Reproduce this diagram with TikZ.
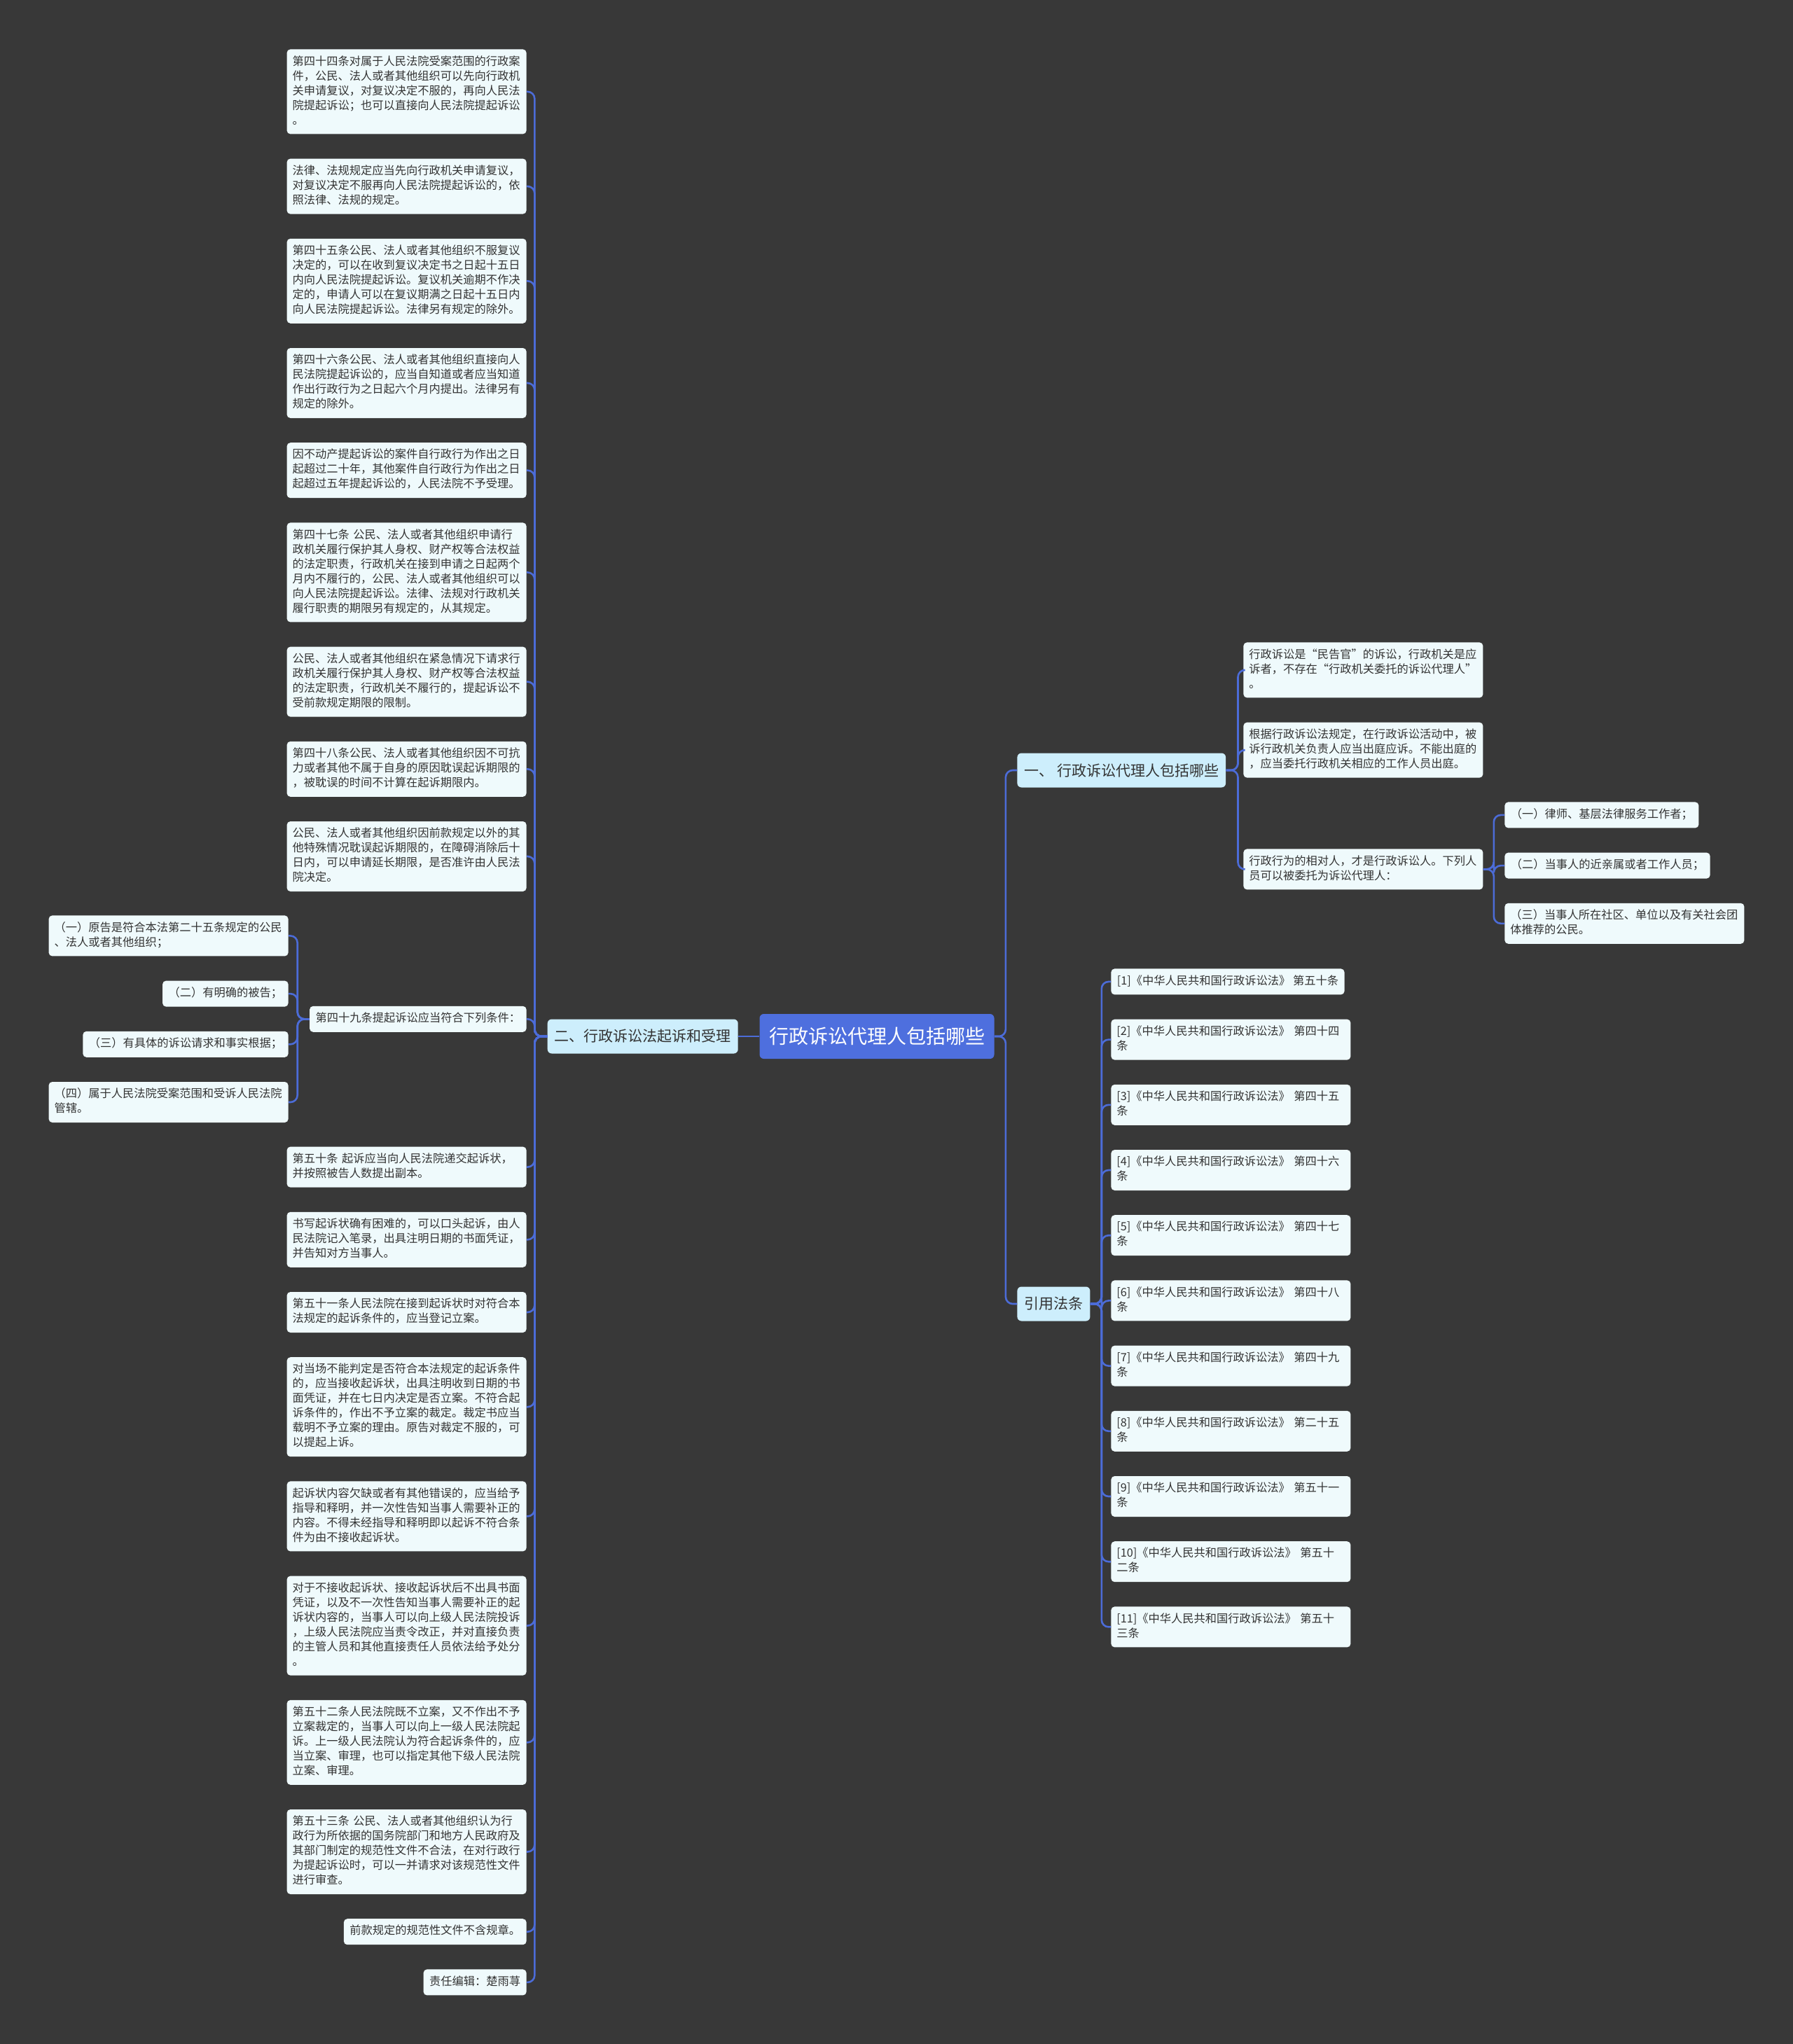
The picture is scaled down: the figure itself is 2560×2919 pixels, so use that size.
\documentclass[tikz,border=0pt]{standalone}
\usepackage{fontspec}
\setmainfont{Noto Sans CJK SC}
\usetikzlibrary{positioning}
\definecolor{bgc}{HTML}{383838}
\definecolor{linkc}{HTML}{4C6CD8}
\definecolor{rootc}{HTML}{4E6FDE}
\definecolor{topicc}{HTML}{CDEEFC}
\definecolor{leafc}{HTML}{EFFAFC}
\definecolor{textc}{HTML}{333333}

\begin{document}
\begin{tikzpicture}[
    x=0.5pt, y=-0.5pt,
    root/.style={fill=rootc, text=white, rounded corners=3pt, inner xsep=6.75pt, minimum height=32pt, font=\fontsize{14}{16}\selectfont},
    topic/.style={fill=topicc, text=textc, rounded corners=3pt, inner xsep=5pt, minimum height=24.5pt, font=\fontsize{10.5}{12}\selectfont},
    tag/.style={fill=leafc, text=textc, rounded corners=2.5pt, inner xsep=4.25pt, inner ysep=4pt, align=left,
      font=\fontsize{8.125}{10.5}\selectfont, execute at begin node=\strut, execute at end node=\strut},
    leaf/.style={tag, text width=163pt, inner xsep=4pt},
    stackl/.style={below left=17.2pt and 0pt of #1.south east},
    stackr/.style={below right=17.2pt and 0pt of #1.south west},
    link/.style={draw=linkc, line width=1.3pt, rounded corners=5pt},
]
  \fill[bgc] (0,0) rectangle (2560,2919);

  % centre
  \node[root] (root) at (1252,1480) {行政诉讼代理人包括哪些};
  \node[topic, left=15pt of root] (topic2) {二、行政诉讼法起诉和受理};
  \node[topic, anchor=west] (topic1) at (1452,1100) {一、 行政诉讼代理人包括哪些};
  \node[topic, anchor=west] (cite) at (1452,1862) {引用法条};

  % left column
  \node[leaf, anchor=north east] (l1) at (752,70) {第四十四条对属于人民法院受案范围的行政案\\件，公民、法人或者其他组织可以先向行政机\\关申请复议，对复议决定不服的，再向人民法\\院提起诉讼；也可以直接向人民法院提起诉讼\\。};
  \node[leaf, stackl=l1] (l2) {法律、法规规定应当先向行政机关申请复议，\\对复议决定不服再向人民法院提起诉讼的，依\\照法律、法规的规定。};
  \node[leaf, stackl=l2] (l3) {第四十五条公民、法人或者其他组织不服复议\\决定的，可以在收到复议决定书之日起十五日\\内向人民法院提起诉讼。复议机关逾期不作决\\定的，申请人可以在复议期满之日起十五日内\\向人民法院提起诉讼。法律另有规定的除外。};
  \node[leaf, stackl=l3] (l4) {第四十六条公民、法人或者其他组织直接向人\\民法院提起诉讼的，应当自知道或者应当知道\\作出行政行为之日起六个月内提出。法律另有\\规定的除外。};
  \node[leaf, stackl=l4] (l5) {因不动产提起诉讼的案件自行政行为作出之日\\起超过二十年，其他案件自行政行为作出之日\\起超过五年提起诉讼的，人民法院不予受理。};
  \node[leaf, stackl=l5] (l6) {第四十七条 公民、法人或者其他组织申请行\\政机关履行保护其人身权、财产权等合法权益\\的法定职责，行政机关在接到申请之日起两个\\月内不履行的，公民、法人或者其他组织可以\\向人民法院提起诉讼。法律、法规对行政机关\\履行职责的期限另有规定的，从其规定。};
  \node[leaf, stackl=l6] (l7) {公民、法人或者其他组织在紧急情况下请求行\\政机关履行保护其人身权、财产权等合法权益\\的法定职责，行政机关不履行的，提起诉讼不\\受前款规定期限的限制。};
  \node[leaf, stackl=l7] (l8) {第四十八条公民、法人或者其他组织因不可抗\\力或者其他不属于自身的原因耽误起诉期限的\\，被耽误的时间不计算在起诉期限内。};
  \node[leaf, stackl=l8] (l9) {公民、法人或者其他组织因前款规定以外的其\\他特殊情况耽误起诉期限的，在障碍消除后十\\日内，可以申请延长期限，是否准许由人民法\\院决定。};
  \node[tag, below left=81.5pt and 0pt of l9.south east] (l10) {第四十九条提起诉讼应当符合下列条件：};
  \node[leaf, below left=81.5pt and 0pt of l10.south east] (l11) {第五十条 起诉应当向人民法院递交起诉状，\\并按照被告人数提出副本。};
  \node[leaf, stackl=l11] (l12) {书写起诉状确有困难的，可以口头起诉，由人\\民法院记入笔录，出具注明日期的书面凭证，\\并告知对方当事人。};
  \node[leaf, stackl=l12] (l13) {第五十一条人民法院在接到起诉状时对符合本\\法规定的起诉条件的，应当登记立案。};
  \node[leaf, stackl=l13] (l14) {对当场不能判定是否符合本法规定的起诉条件\\的，应当接收起诉状，出具注明收到日期的书\\面凭证，并在七日内决定是否立案。不符合起\\诉条件的，作出不予立案的裁定。裁定书应当\\载明不予立案的理由。原告对裁定不服的，可\\以提起上诉。};
  \node[leaf, stackl=l14] (l15) {起诉状内容欠缺或者有其他错误的，应当给予\\指导和释明，并一次性告知当事人需要补正的\\内容。不得未经指导和释明即以起诉不符合条\\件为由不接收起诉状。};
  \node[leaf, stackl=l15] (l16) {对于不接收起诉状、接收起诉状后不出具书面\\凭证，以及不一次性告知当事人需要补正的起\\诉状内容的，当事人可以向上级人民法院投诉\\，上级人民法院应当责令改正，并对直接负责\\的主管人员和其他直接责任人员依法给予处分\\。};
  \node[leaf, stackl=l16] (l17) {第五十二条人民法院既不立案，又不作出不予\\立案裁定的，当事人可以向上一级人民法院起\\诉。上一级人民法院认为符合起诉条件的，应\\当立案、审理，也可以指定其他下级人民法院\\立案、审理。};
  \node[leaf, stackl=l17] (l18) {第五十三条 公民、法人或者其他组织认为行\\政行为所依据的国务院部门和地方人民政府及\\其部门制定的规范性文件不合法，在对行政行\\为提起诉讼时，可以一并请求对该规范性文件\\进行审查。};
  \node[tag, stackl=l18] (l19) {前款规定的规范性文件不含规章。};
  \node[tag, stackl=l19] (l20) {责任编辑：楚雨荨};

  % conditions of art. 49
  \node[leaf, anchor=north east] (s1) at (412,1307) {（一）原告是符合本法第二十五条规定的公民\\、法人或者其他组织；};
  \node[tag, stackl=s1] (s2) {（二）有明确的被告；};
  \node[tag, stackl=s2] (s3) {（三）有具体的诉讼请求和事实根据；};
  \node[leaf, stackl=s3] (s4) {（四）属于人民法院受案范围和受诉人民法院\\管辖。};

  % right: agents
  \node[leaf, anchor=north west] (r1) at (1775,917) {行政诉讼是“民告官”的诉讼，行政机关是应\\诉者，不存在“行政机关委托的诉讼代理人”\\。};
  \node[leaf, stackr=r1] (r2) {根据行政诉讼法规定，在行政诉讼活动中，被\\诉行政机关负责人应当出庭应诉。不能出庭的\\，应当委托行政机关相应的工作人员出庭。};
  \node[leaf, anchor=north west] (r3) at (1775,1212) {行政行为的相对人，才是行政诉讼人。下列人\\员可以被委托为诉讼代理人：};
  \node[tag, anchor=north west] (q1) at (2148,1145) {（一）律师、基层法律服务工作者；};
  \node[tag, stackr=q1] (q2) {（二）当事人的近亲属或者工作人员；};
  \node[leaf, stackr=q2] (q3) {（三）当事人所在社区、单位以及有关社会团\\体推荐的公民。};

  % right: cited articles
  \node[tag, anchor=north west] (law1) at (1586,1383) {[1]《中华人民共和国行政诉讼法》 第五十条};
  \node[leaf, stackr=law1] (law2) {[2]《中华人民共和国行政诉讼法》 第四十四\\条};
  \node[leaf, stackr=law2] (law3) {[3]《中华人民共和国行政诉讼法》 第四十五\\条};
  \node[leaf, stackr=law3] (law4) {[4]《中华人民共和国行政诉讼法》 第四十六\\条};
  \node[leaf, stackr=law4] (law5) {[5]《中华人民共和国行政诉讼法》 第四十七\\条};
  \node[leaf, stackr=law5] (law6) {[6]《中华人民共和国行政诉讼法》 第四十八\\条};
  \node[leaf, stackr=law6] (law7) {[7]《中华人民共和国行政诉讼法》 第四十九\\条};
  \node[leaf, stackr=law7] (law8) {[8]《中华人民共和国行政诉讼法》 第二十五\\条};
  \node[leaf, stackr=law8] (law9) {[9]《中华人民共和国行政诉讼法》 第五十一\\条};
  \node[leaf, stackr=law9] (law10) {[10]《中华人民共和国行政诉讼法》 第五十\\二条};
  \node[leaf, stackr=law10] (law11) {[11]《中华人民共和国行政诉讼法》 第五十\\三条};

  % connectors
  \draw[link] (root.west) -- (topic2.east);
  \foreach \n in {topic1, cite}
    \draw[link] (root.east) -- ++(16,0) |- (\n.west);
  \foreach \i in {1,...,20}
    \draw[link] (topic2.west) -- ++(-18,0) |- (l\i.east);
  \foreach \i in {1,...,4}
    \draw[link] (l10.west) -- ++(-17,0) |- (s\i.east);
  \foreach \i in {1,2,3}
    \draw[link] (topic1.east) -- ++(17,0) |- (r\i.west);
  \foreach \i in {1,2,3}
    \draw[link] (r3.east) -- ++(15,0) |- (q\i.west);
  \foreach \i in {1,...,11}
    \draw[link] (cite.east) -- ++(16,0) |- (law\i.west);
\end{tikzpicture}
\end{document}
